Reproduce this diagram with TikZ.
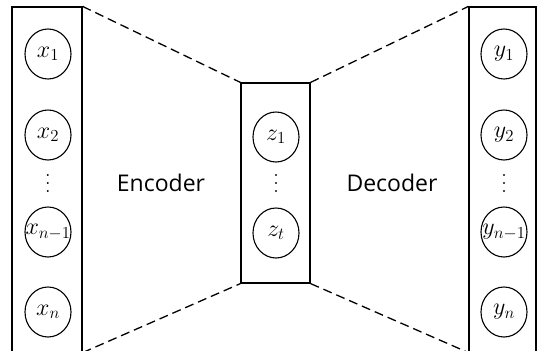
\RequirePackage{fix-cm}
\documentclass[tikz,border=0pt]{standalone}
\usepackage{fontspec}
\setsansfont{Open Sans}
\usetikzlibrary{shapes.geometric}
\newcommand{\tridots}{\vbox{\baselineskip=8pt\lineskiplimit=-20pt\hbox{.}\hbox{.}\hbox{.}}}

\begin{document}
\begin{tikzpicture}[x=1pt, y=-1pt,
    layer/.style = {draw, line width=1.2pt, inner sep=0pt},
    unit/.style = {draw, ellipse, line width=1.1pt, minimum width=46pt, minimum height=50pt, inner sep=0pt, font=\fontsize{24}{24}\selectfont},
    wideunit/.style = {unit, inner xsep=-8pt},
    dotsym/.style = {inner sep=0pt, font=\fontsize{24}{24}\selectfont},
    link/.style = {line width=1.3pt, dash pattern=on 9pt off 5pt},
    caption/.style = {font=\sffamily\fontsize{23}{23}\selectfont}]
                \useasboundingbox (0,0) rectangle (539,351);
                % layers
                \node[layer, minimum width=70pt, minimum height=345pt] (enc) at (47,179.5) {};
                \node[layer, minimum width=69pt, minimum height=200pt] (lat) at (275.5,183) {};
                \node[layer, minimum width=67pt, minimum height=345pt] (dec) at (502.5,179.5) {};
                % input units
                \node[unit] (x1) at (48,54) {$x_1$};
                \node[unit] (x2) at (48,135) {$x_2$};
                \node[dotsym] (xd) at (48,184) {\tridots};
                \node[wideunit] (xm) at (48,232) {$x_{n-1}$};
                \node[unit] (xn) at (48,312) {$x_n$};
                % latent units
                \node[unit] (z1) at (276,137) {$z_1$};
                \node[dotsym] (zd) at (276,184) {\tridots};
                \node[unit] (zt) at (276,233) {$z_t$};
                % output units
                \node[unit] (y1) at (504,54) {$y_1$};
                \node[unit] (y2) at (504,135) {$y_2$};
                \node[dotsym] (yd) at (504,184) {\tridots};
                \node[wideunit] (ym) at (504,232) {$y_{n-1}$};
                \node[unit] (yn) at (504,312) {$y_n$};
                % funnel
                \draw[link] (enc.north east) -- (lat.north west);
                \draw[link] (enc.south east) -- (lat.south west);
                \draw[link] (lat.north east) -- (dec.north west);
                \draw[link] (lat.south east) -- (dec.south west);
                \node[caption] (enctext) at (161,183) {Encoder};
                \node[caption] (dectext) at (392,183) {Decoder};
            \end{tikzpicture}
\end{document}
